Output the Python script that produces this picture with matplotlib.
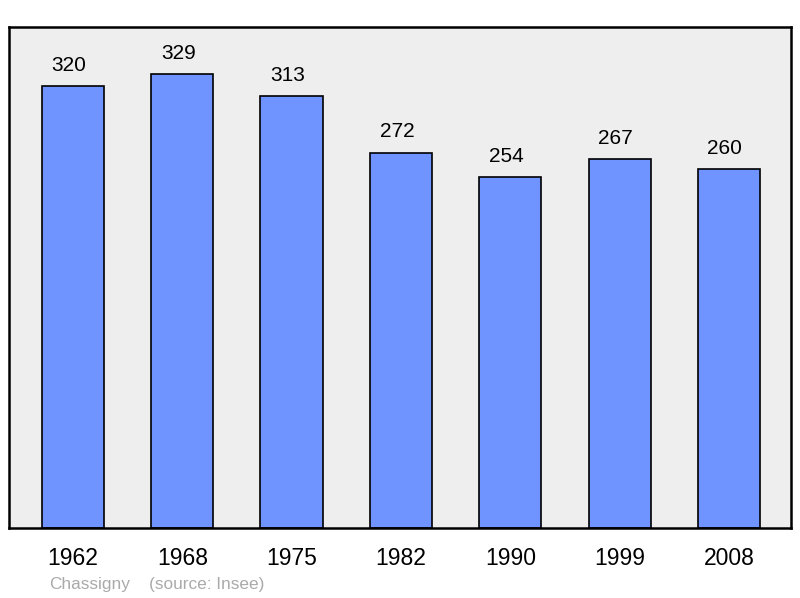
import matplotlib.pyplot as plt

plt.rcParams['font.family'] = ['Liberation Sans', 'DejaVu Sans']

# population data
years = ['1962', '1968', '1975', '1982', '1990', '1999', '2008']
population = [320, 329, 313, 272, 254, 267, 260]

fig = plt.figure(figsize=(8, 5.98), dpi=100)
ax = fig.add_axes([9 / 800, 70 / 598, 782 / 800, 501 / 598])
ax.set_facecolor('#eeeeee')

x = range(len(years))
bars = ax.bar(x, population, width=0.57, color='#7094ff', edgecolor='black', linewidth=1.2)

# value labels on top of the bars
for xi, v in zip(x, population):
    ax.annotate(str(v), (xi, v), xytext=(-3, 8), textcoords='offset points',
                ha='center', va='bottom', fontsize=15)

ax.set_xlim(-0.585, 6.567)
ax.set_ylim(0, 363)
ax.set_xticks(list(x))
ax.set_xticklabels(years, fontsize=16.5)
ax.tick_params(axis='x', length=0, pad=14)
ax.set_yticks([])
for s in ax.spines.values():
    s.set_linewidth(1.8)

fig.text(49 / 800, 1 - 585 / 598, 'Chassigny', color='#aaaaaa', fontsize=12.4, va='center')
fig.text(149 / 800, 1 - 585 / 598, '(source: Insee)', color='#aaaaaa', fontsize=12.4, va='center')

plt.savefig('out.png', dpi=100)
